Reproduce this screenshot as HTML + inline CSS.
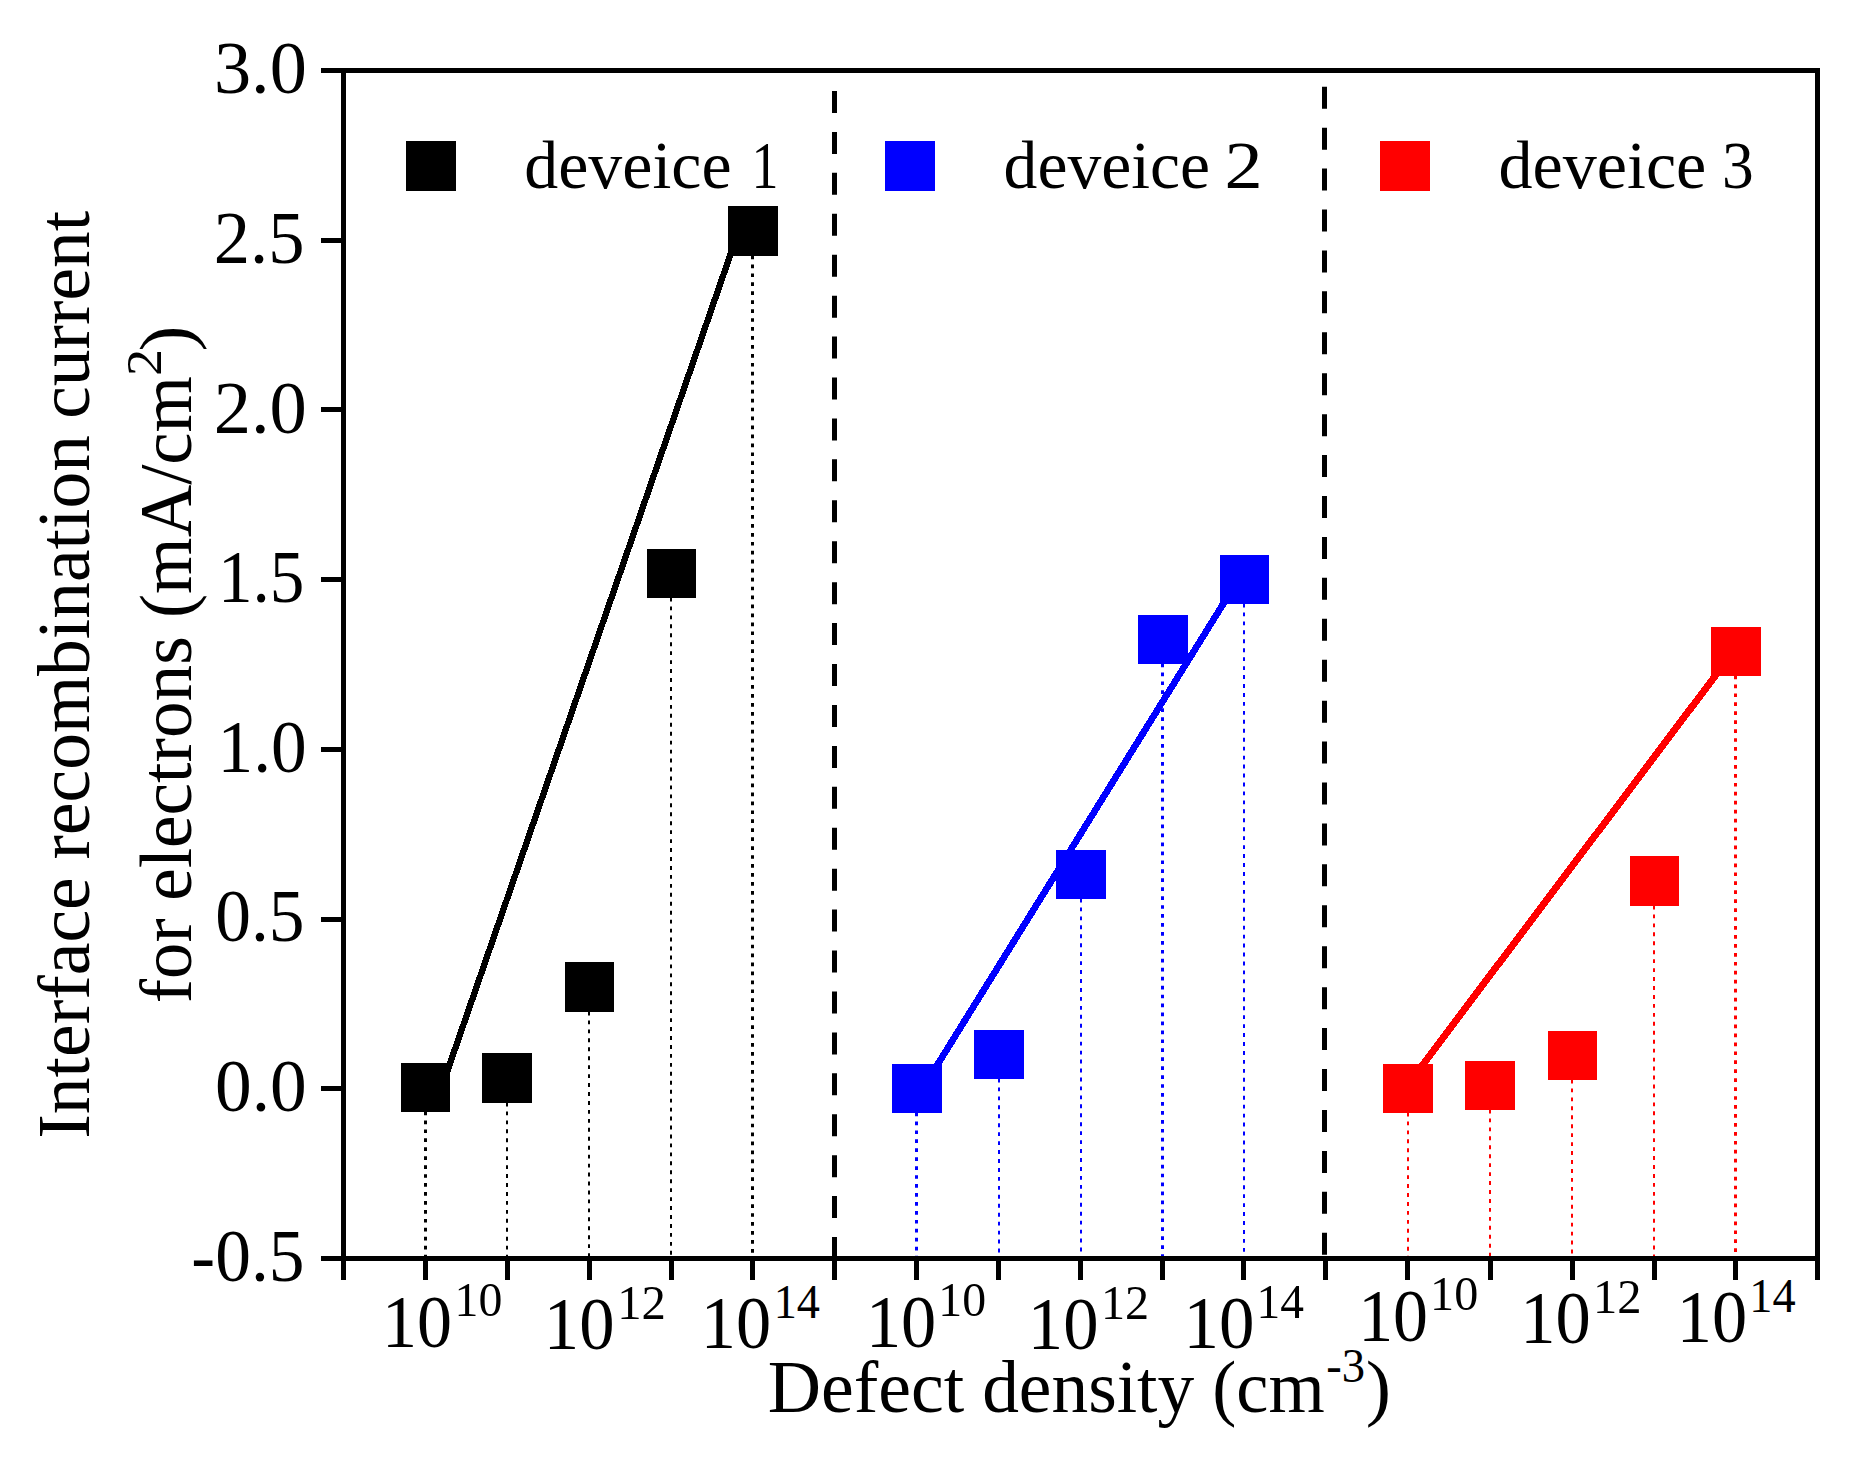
<!DOCTYPE html>
<html lang="en"><head><meta charset="utf-8"><title>Interface recombination current vs defect density</title>
<style>html,body{margin:0;padding:0;background:#fff;}body{width:1853px;height:1463px;overflow:hidden;}svg{display:block;}text{font-family:"Liberation Serif", "Times New Roman", serif;fill:#000;font-kerning:none;}</style>
</head><body>
<svg width="1853" height="1463" viewBox="0 0 1853 1463">
<rect x="0" y="0" width="1853" height="1463" fill="#fff"/>
<line x1="425.5" y1="1111.5" x2="425.5" y2="1258" stroke="#000" stroke-width="3" stroke-dasharray="3.7 5.25"/>
<line x1="507.0" y1="1102.5" x2="507.0" y2="1258" stroke="#000" stroke-width="2" stroke-dasharray="3.9 5.05"/>
<line x1="589.0" y1="1011.5" x2="589.0" y2="1258" stroke="#000" stroke-width="2" stroke-dasharray="3.9 5.05"/>
<line x1="671.0" y1="597.5" x2="671.0" y2="1258" stroke="#000" stroke-width="2" stroke-dasharray="3.9 5.05"/>
<line x1="752.5" y1="255.5" x2="752.5" y2="1258" stroke="#000" stroke-width="3" stroke-dasharray="3.7 5.25"/>
<line x1="916.5" y1="1112.5" x2="916.5" y2="1258" stroke="#00f" stroke-width="3" stroke-dasharray="3.7 5.25"/>
<line x1="999.0" y1="1078.5" x2="999.0" y2="1258" stroke="#00f" stroke-width="2" stroke-dasharray="3.9 5.05"/>
<line x1="1081.0" y1="898.5" x2="1081.0" y2="1258" stroke="#00f" stroke-width="2" stroke-dasharray="3.9 5.05"/>
<line x1="1162.5" y1="663.5" x2="1162.5" y2="1258" stroke="#00f" stroke-width="3" stroke-dasharray="3.7 5.25"/>
<line x1="1244.0" y1="603.5" x2="1244.0" y2="1258" stroke="#00f" stroke-width="2" stroke-dasharray="3.9 5.05"/>
<line x1="1408.0" y1="1112.5" x2="1408.0" y2="1258" stroke="#f00" stroke-width="2" stroke-dasharray="3.9 5.05"/>
<line x1="1490.0" y1="1109.5" x2="1490.0" y2="1258" stroke="#f00" stroke-width="2" stroke-dasharray="3.9 5.05"/>
<line x1="1572.0" y1="1079.5" x2="1572.0" y2="1258" stroke="#f00" stroke-width="2" stroke-dasharray="3.9 5.05"/>
<line x1="1654.0" y1="905.5" x2="1654.0" y2="1258" stroke="#f00" stroke-width="2" stroke-dasharray="3.9 5.05"/>
<line x1="1735.5" y1="675.5" x2="1735.5" y2="1258" stroke="#f00" stroke-width="3" stroke-dasharray="3.7 5.25"/>
<line x1="447.40" y1="1071.00" x2="732.70" y2="248.00" stroke="#000" stroke-width="6.3" shape-rendering="crispEdges"/>
<line x1="932.90" y1="1072.00" x2="1228.10" y2="596.00" stroke="#00f" stroke-width="6.7" shape-rendering="crispEdges"/>
<line x1="1417.30" y1="1072.00" x2="1721.10" y2="668.00" stroke="#f00" stroke-width="7" shape-rendering="crispEdges"/>
<rect x="401" y="1063" width="49" height="49" fill="#000"/>
<rect x="482" y="1053" width="50" height="50" fill="#000"/>
<rect x="565" y="962" width="49" height="50" fill="#000"/>
<rect x="647" y="549" width="49" height="49" fill="#000"/>
<rect x="728" y="206" width="50" height="50" fill="#000"/>
<rect x="892" y="1064" width="50" height="49" fill="#00f"/>
<rect x="974" y="1030" width="50" height="49" fill="#00f"/>
<rect x="1056" y="850" width="50" height="49" fill="#00f"/>
<rect x="1138" y="615" width="50" height="49" fill="#00f"/>
<rect x="1220" y="555" width="49" height="49" fill="#00f"/>
<rect x="1383" y="1064" width="50" height="49" fill="#f00"/>
<rect x="1465" y="1061" width="50" height="49" fill="#f00"/>
<rect x="1548" y="1031" width="49" height="49" fill="#f00"/>
<rect x="1630" y="856" width="49" height="50" fill="#f00"/>
<rect x="1711" y="627" width="50" height="49" fill="#f00"/>
<line x1="834.5" y1="91" x2="834.5" y2="1259" stroke="#000" stroke-width="5" stroke-dasharray="22 18.93"/>
<line x1="1324.5" y1="86.7" x2="1324.5" y2="1256" stroke="#000" stroke-width="5" stroke-dasharray="22 18.93"/>
<rect x="343.5" y="70.5" width="1474" height="1188" fill="none" stroke="#000" stroke-width="5"/>
<rect x="321" y="68" width="21" height="5" fill="#000"/>
<rect x="321" y="238" width="21" height="5" fill="#000"/>
<rect x="321" y="407" width="21" height="5" fill="#000"/>
<rect x="321" y="577" width="21" height="5" fill="#000"/>
<rect x="321" y="747" width="21" height="5" fill="#000"/>
<rect x="321" y="917" width="21" height="5" fill="#000"/>
<rect x="321" y="1086" width="21" height="5" fill="#000"/>
<rect x="321" y="1256" width="21" height="5" fill="#000"/>
<rect x="341" y="1260" width="5" height="20" fill="#000"/>
<rect x="423" y="1260" width="5" height="20" fill="#000"/>
<rect x="505" y="1260" width="5" height="20" fill="#000"/>
<rect x="587" y="1260" width="5" height="20" fill="#000"/>
<rect x="669" y="1260" width="5" height="20" fill="#000"/>
<rect x="750" y="1260" width="5" height="20" fill="#000"/>
<rect x="832" y="1260" width="5" height="20" fill="#000"/>
<rect x="914" y="1260" width="5" height="20" fill="#000"/>
<rect x="996" y="1260" width="5" height="20" fill="#000"/>
<rect x="1078" y="1260" width="5" height="20" fill="#000"/>
<rect x="1160" y="1260" width="5" height="20" fill="#000"/>
<rect x="1241" y="1260" width="5" height="20" fill="#000"/>
<rect x="1323" y="1260" width="5" height="20" fill="#000"/>
<rect x="1405" y="1260" width="5" height="20" fill="#000"/>
<rect x="1488" y="1260" width="5" height="20" fill="#000"/>
<rect x="1570" y="1260" width="5" height="20" fill="#000"/>
<rect x="1652" y="1260" width="5" height="20" fill="#000"/>
<rect x="1733" y="1260" width="5" height="20" fill="#000"/>
<rect x="1815" y="1260" width="5" height="20" fill="#000"/>
<text transform="translate(213.94,93.20) scale(0.9908,1)" font-size="75">3.0</text>
<text transform="translate(213.81,262.60) scale(0.9677,1)" font-size="75">2.5</text>
<text transform="translate(213.73,432.50) scale(0.9932,1)" font-size="75">2.0</text>
<text transform="translate(217.92,601.90) scale(0.9225,1)" font-size="75">1.5</text>
<text transform="translate(217.53,772.00) scale(0.9513,1)" font-size="75">1.0</text>
<text transform="translate(215.18,941.40) scale(0.9527,1)" font-size="75">0.5</text>
<text transform="translate(215.11,1111.20) scale(0.9780,1)" font-size="75">0.0</text>
<text transform="translate(191.35,1281.00) scale(0.9530,1)" font-size="75">-0.5</text>
<text transform="translate(381.95,1346.60) scale(0.9336,1)" font-size="75">10</text>
<text transform="translate(454.60,1316.40) scale(0.9662,1)" font-size="49.5">10</text>
<text transform="translate(543.79,1348.80) scale(0.9428,1)" font-size="75">10</text>
<text transform="translate(617.21,1319.00) scale(0.9854,1)" font-size="49.5">12</text>
<text transform="translate(700.82,1347.70) scale(0.9382,1)" font-size="75">10</text>
<text transform="translate(773.63,1317.90) scale(0.9352,1)" font-size="49.5">14</text>
<text transform="translate(865.92,1346.70) scale(0.9382,1)" font-size="75">10</text>
<text transform="translate(938.30,1316.40) scale(0.9662,1)" font-size="49.5">10</text>
<text transform="translate(1027.79,1348.80) scale(0.9428,1)" font-size="75">10</text>
<text transform="translate(1100.96,1319.00) scale(0.9736,1)" font-size="49.5">12</text>
<text transform="translate(1183.47,1347.70) scale(0.9458,1)" font-size="75">10</text>
<text transform="translate(1256.43,1317.90) scale(0.9577,1)" font-size="49.5">14</text>
<text transform="translate(1358.16,1340.70) scale(0.9321,1)" font-size="75">10</text>
<text transform="translate(1430.07,1310.20) scale(0.9731,1)" font-size="49.5">10</text>
<text transform="translate(1520.21,1342.80) scale(0.9397,1)" font-size="75">10</text>
<text transform="translate(1592.93,1313.00) scale(0.9807,1)" font-size="49.5">12</text>
<text transform="translate(1676.82,1341.70) scale(0.9382,1)" font-size="75">10</text>
<text transform="translate(1749.32,1311.90) scale(0.9374,1)" font-size="49.5">14</text>
<rect x="406" y="141" width="50" height="50" fill="#000"/>
<text transform="translate(524.25,188.00) scale(0.9985,1)" font-size="68">deveice</text>
<text transform="translate(751.56,188.00) scale(0.7937,1)" font-size="68">1</text>
<rect x="885" y="141" width="50" height="50" fill="#00f"/>
<text transform="translate(1003.56,188.00) scale(0.9950,1)" font-size="68">deveice</text>
<text transform="translate(1224.55,188.00) scale(1.1225,1)" font-size="68">2</text>
<rect x="1380" y="141" width="50" height="50" fill="#f00"/>
<text transform="translate(1498.54,188.00) scale(1.0010,1)" font-size="68">deveice</text>
<text transform="translate(1721.97,188.00) scale(0.9327,1)" font-size="68">3</text>
<text transform="translate(767.67,1411.80) scale(0.9947,1)" font-size="74.2">Defect</text>
<text transform="translate(982.15,1411.80) scale(0.9897,1)" font-size="74.2">density</text>
<text transform="translate(1212.22,1411.80) scale(0.9753,1)" font-size="74.2">(cm</text>
<text transform="translate(1326.17,1382.00) scale(0.9519,1)" font-size="49">-3</text>
<text transform="translate(1365.75,1411.80) scale(1.0232,1)" font-size="74.2">)</text>
<text transform="translate(89.00,1138.76) rotate(-90) scale(0.9926,1)" font-size="74.2">Interface</text>
<text transform="translate(89.00,859.47) rotate(-90) scale(0.9905,1)" font-size="74.2">recombination</text>
<text transform="translate(89.00,418.80) rotate(-90) scale(0.9901,1)" font-size="74.2">current</text>
<text transform="translate(191.00,1003.24) rotate(-90) scale(0.9811,1)" font-size="74.2">for</text>
<text transform="translate(191.00,900.86) rotate(-90) scale(0.9880,1)" font-size="74.2">electrons</text>
<text transform="translate(191.00,618.09) rotate(-90) scale(0.9796,1)" font-size="74.2">(mA/cm</text>
<text transform="translate(161.20,375.98) rotate(-90) scale(1.0826,1)" font-size="50">2</text>
<text transform="translate(191.00,351.52) rotate(-90) scale(1.0547,1)" font-size="74.2">)</text>
</svg>
</body></html>
